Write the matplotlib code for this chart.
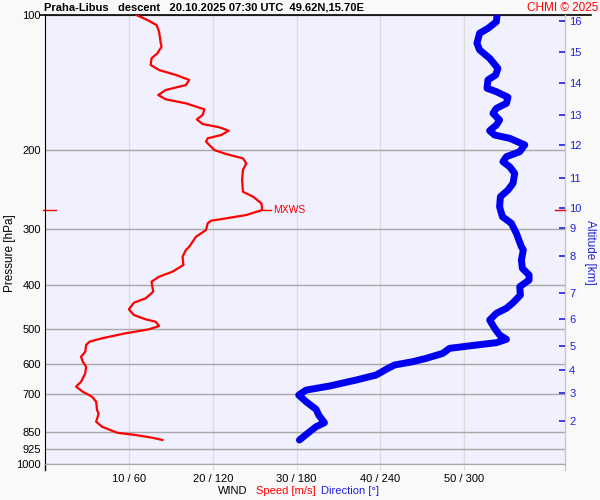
import matplotlib
matplotlib.use('Agg')
import matplotlib.pyplot as plt
from matplotlib.ticker import FixedLocator, NullLocator
import numpy as np

plt.rcParams['font.family'] = ['Liberation Sans', 'DejaVu Sans']

# wind speed profile (hPa, m/s)
spd_p = [100.0, 102.6, 105.3, 108.9, 115.6, 117.6, 121.7, 124.9, 129.2, 132.6,
         136.0, 139.5, 143.2, 146.9, 150.7, 154.1, 157.3, 162.2, 167.0, 170.8,
         174.9, 177.9, 181.0, 185.1, 188.2, 191.5, 199.9, 204.0, 208.6, 214.0,
         221.4, 233.1, 247.5, 253.9, 262.7, 271.8, 278.9, 283.7, 287.2, 291.0,
         301.2, 311.8, 328.1, 333.7, 345.4, 360.4, 373.0, 382.7, 392.6, 413.3,
         427.6, 437.3, 452.4, 465.8, 476.2, 482.1, 492.8, 501.2, 511.6, 524.8,
         534.1, 543.3, 562.3, 576.8, 591.8, 607.2, 628.1, 655.7, 672.7, 690.2,
         708.1, 726.5, 758.2, 771.2, 805.1, 826.0, 851.9, 861.9, 873.9, 884.2]
spd = [10.9, 12.2, 13.3, 13.6, 13.8, 13.9, 13.4, 12.7, 12.6, 13.6,
       15.6, 17.2, 16.8, 14.4, 13.5, 14.4, 16.8, 19.0, 18.8, 18.1,
       18.8, 20.8, 21.9, 21.0, 19.4, 19.2, 20.2, 21.6, 23.6, 24.0,
       23.6, 23.5, 23.6, 24.8, 25.8, 25.9, 24.0, 21.6, 19.8, 19.4,
       19.2, 18.0, 17.2, 16.8, 16.4, 16.5, 15.2, 13.6, 12.7, 12.9,
       12.0, 10.6, 10.0, 10.6, 12.0, 13.2, 13.6, 12.4, 9.6, 6.8,
       5.3, 4.9, 4.8, 4.3, 4.5, 4.9, 4.8, 4.3, 3.7, 4.5,
       5.6, 6.1, 6.2, 6.4, 6.1, 6.8, 8.6, 10.8, 12.8, 14.0]

# wind direction profile (hPa, deg)
dir_p = [100.5, 103.5, 107.1, 109.8, 115.6, 119.6, 124.9, 131.5, 136.0, 139.5,
         145.6, 148.2, 152.5, 157.3, 161.4, 165.6, 171.4, 175.8, 181.0, 185.1,
         188.2, 194.7, 201.6, 206.8, 212.2, 217.7, 225.3, 237.1, 245.4, 253.9,
         267.3, 281.3, 291.0, 306.3, 328.1, 333.7, 351.3, 366.6, 379.4, 389.3,
         402.9, 420.4, 437.4, 450.0, 461.8, 477.9, 498.7, 516.1, 527.6, 536.8,
         543.3, 552.6, 567.0, 581.7, 591.8, 601.9, 615.3, 633.6, 650.1, 670.5,
         684.4, 702.2, 726.5, 755.3, 778.1, 809.2, 826.0, 854.5, 884.2]
wdir = [323.3, 322.9, 316.9, 310.9, 309.0, 310.9, 318.1, 324.0, 322.4, 316.9,
        316.2, 322.9, 331.2, 330.1, 322.9, 320.5, 325.2, 322.9, 318.1, 321.7,
        332.4, 343.2, 339.6, 330.1, 327.6, 332.4, 336.0, 334.8, 331.2, 325.8,
        325.2, 327.2, 333.6, 337.2, 340.8, 342.2, 340.8, 341.5, 346.3, 346.3,
        339.6, 340.1, 334.8, 330.1, 322.9, 318.1, 321.7, 325.2, 330.1, 322.9,
        308.6, 289.4, 284.6, 272.7, 263.1, 250.0, 244.1, 236.9, 222.6, 203.5,
        186.8, 181.5, 186.8, 193.9, 195.8, 199.9, 193.9, 187.9, 182.0]

p_ticks = [100, 200, 300, 400, 500, 600, 700, 850, 925, 1000]
spd_ticks = [10, 20, 30, 40, 50]
x_labels = ['10 / 60', '20 / 120', '30 / 180', '40 / 240', '50 / 300']
alt_km = [2, 3, 4, 5, 6, 7, 8, 9, 10, 11, 12, 13, 14, 15, 16]
alt_p = [801.9, 694.8, 617.0, 546.0, 475.4, 416.0, 344.1, 298.1, 269.0,
         230.7, 194.7, 167.0, 141.7, 120.9, 103.1]

fig = plt.figure(figsize=(6, 5), dpi=100, facecolor='#f9f9f9')
ax = fig.add_axes([45/600, 36/500, 520/600, 449/500])
ax.set_facecolor('#f0f0fe')
ax.set_yscale('log')
ax.set_ylim(1000, 100)
ax.set_xlim(0, 62)
ax.yaxis.set_major_locator(FixedLocator(p_ticks))
ax.yaxis.set_minor_locator(NullLocator())
ax.set_yticklabels([str(p) for p in p_ticks])
ax.tick_params(axis='y', length=0, pad=3, labelsize=8)
ax.set_xticks(spd_ticks)
ax.set_xticklabels(x_labels)
ax.tick_params(axis='x', length=4.5, color='#dcdcdc', pad=2.5, labelsize=8)
ax.grid(axis='x', color='#dcdcdc', lw=1)
ax.grid(axis='y', color='#a8a8a8', lw=1)
for s in ['top', 'right']:
    ax.spines[s].set_visible(False)
ax.spines['bottom'].set_color('#a8a8a8')
ax.spines['left'].set_color('black')
ax.set_axisbelow(True)
ax.set_ylabel('Pressure [hPa]', fontsize=8.5)
ax.yaxis.set_label_coords(-0.055, 0.47)

# frame extras
ax.plot([-0.01, 1.05], [1, 1], transform=ax.transAxes, color='black', lw=1.2, clip_on=False)
ax.plot([0, 0], [0, -0.013], transform=ax.transAxes, color='black', lw=1, clip_on=False)
ax.plot([1, 1], [-0.013, 1], transform=ax.transAxes, color='#c8c8c8', lw=1, clip_on=False)

ax.plot(spd, spd_p, color='red', lw=1.6, zorder=3)

# direction on its own x scale (6 deg per m/s)
ax_dir = ax.twiny()
ax_dir.set_xlim(0, 62 * 6)
ax_dir.set_xticks([])
for s in ax_dir.spines.values():
    s.set_visible(False)
ax_dir.plot(wdir, dir_p, color='#0000f0', lw=5, solid_capstyle='round', zorder=3)

# altitude axis
ax_alt = ax.twinx()
ax_alt.set_yscale('log')
ax_alt.set_ylim(1000, 100)
ax_alt.yaxis.set_major_locator(FixedLocator(alt_p))
ax_alt.yaxis.set_minor_locator(NullLocator())
ax_alt.set_yticklabels([str(a) for a in alt_km])
ax_alt.tick_params(axis='y', direction='in', length=4.5, width=1.2, color='#2020e0',
                   labelcolor='#2020e0', pad=3, labelsize=8)
for s in ax_alt.spines.values():
    s.set_visible(False)

# max wind marker
i = int(np.argmax(spd))
mx_s, mx_p = spd[i], spd_p[i]
ax.plot([mx_s, mx_s + 1.0], [mx_p, mx_p], color='red', lw=1, zorder=3)
ax.text(mx_s + 1.3, mx_p, 'MXWS', color='red', fontsize=7.5, va='center')
tr = ax.get_yaxis_transform()
ax.plot([-0.004, 0.021], [mx_p, mx_p], transform=tr, color='red', lw=1, clip_on=False)
ax.plot([0.981, 1.0], [mx_p, mx_p], transform=tr, color='red', lw=1, clip_on=False)

fig.text(44/600, 1 - 8/500, 'Praha-Libus   descent   20.10.2025 07:30 UTC  49.62N,15.70E',
         fontsize=8, fontweight='bold', va='center', ha='left')
fig.text(598/600, 1 - 8/500, 'CHMI \u00a9 2025', color='red', fontsize=8.5, va='center', ha='right')
fig.text(590/600, 1 - 252/500, 'Altitude [km]', color='#2020e0', fontsize=8.5,
         rotation=270, va='center', ha='center')
fig.text(233/600, 1 - 491/500, 'WIND', fontsize=8, va='center', ha='center')
fig.text(286/600, 1 - 491/500, 'Speed [m/s]', color='red', fontsize=8, va='center', ha='center')
fig.text(350/600, 1 - 491/500, 'Direction [\u00b0]', color='#2020e0', fontsize=8, va='center', ha='center')

fig.savefig('out.png', dpi=100, facecolor=fig.get_facecolor())
